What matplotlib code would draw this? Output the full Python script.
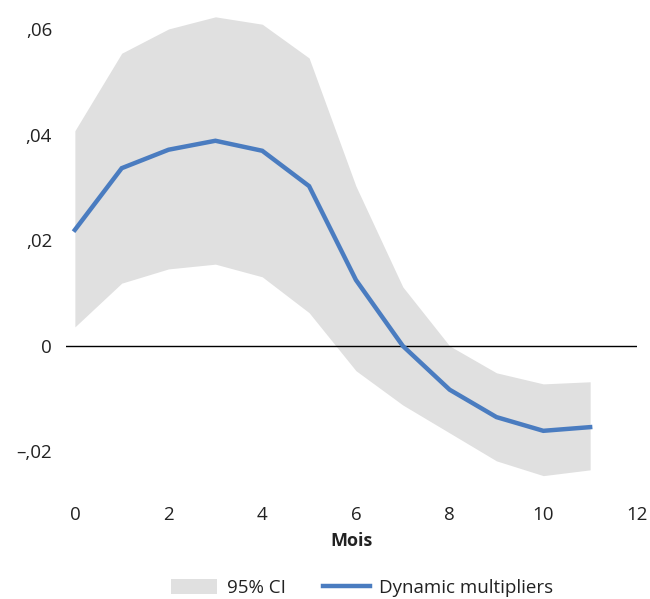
import numpy as np
import matplotlib.pyplot as plt
from matplotlib.patches import Patch
from matplotlib.lines import Line2D
from matplotlib.ticker import FuncFormatter

plt.rcParams['font.family'] = ['Open Sans', 'DejaVu Sans']

# données
mois = [0, 1, 2, 3, 4, 5, 6, 7, 8, 9, 10, 11]
multiplicateurs = [0.0220, 0.0337, 0.0372, 0.0389, 0.0370, 0.0303, 0.0125, 0.0000,
                   -0.0083, -0.0135, -0.0161, -0.0154]
ic_haut = [0.0408, 0.0555, 0.0601, 0.0624, 0.0610, 0.0546, 0.0303, 0.0112,
           0.0000, -0.0051, -0.0072, -0.0068]
ic_bas = [0.0036, 0.0119, 0.0146, 0.0155, 0.0131, 0.0063, -0.0047, -0.0112,
          -0.0165, -0.0218, -0.0246, -0.0235]

bleu = '#4a7cc0'
gris = '#e0e0e0'

fig = plt.figure(figsize=(6.5, 5.99), dpi=100)
ax = fig.add_axes([0.1015, 0.176, 0.8785, 0.81])

ax.fill_between(mois, ic_bas, ic_haut, color=gris, lw=0)
ax.axhline(0, color='black', lw=1)
ax.plot(mois, multiplicateurs, color=bleu, lw=3.2, solid_joinstyle='miter')

ax.set_xlim(-0.19, 12)
ax.set_ylim(-0.028, 0.064)
ax.set_xticks(range(0, 13, 2))
ax.set_yticks([-0.02, 0, 0.02, 0.04, 0.06])


def fmt(v, pos):
    if abs(v) < 1e-9:
        return '0'
    s = f'{abs(v):.2f}'.lstrip('0').replace('.', ',')
    return ('\u2013' if v < 0 else '') + s


ax.yaxis.set_major_formatter(FuncFormatter(fmt))
ax.tick_params(length=0, labelsize=13.5, colors='#222222')
ax.tick_params(axis='y', pad=10)
ax.tick_params(axis='x', pad=9)
for s in ax.spines.values():
    s.set_visible(False)

ax.set_xlabel('Mois', fontsize=13, fontweight='bold', color='#222222', labelpad=6)

handles = [Patch(facecolor=gris, edgecolor='none', label='95% CI'),
           Line2D([0], [0], color=bleu, lw=3.2, label='Dynamic multipliers')]
fig.legend(handles=handles, loc='lower center', bbox_to_anchor=(0.557, -0.025), ncol=2,
           frameon=False, fontsize=13.5, handlelength=2.5, handleheight=0.9,
           columnspacing=2.0, handletextpad=0.5, labelcolor='#222222')

fig.savefig('out.png', dpi=100)
